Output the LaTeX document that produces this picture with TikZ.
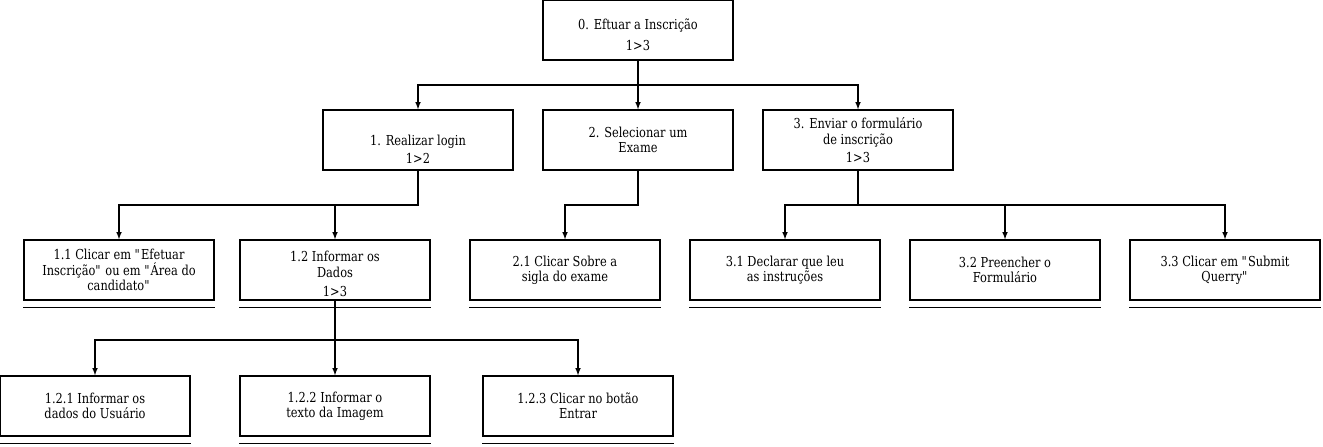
\documentclass[tikz,border=0pt]{standalone}
\usepackage{fontspec}
\setmainfont{DejaVu Serif}[FakeStretch=0.83]
\usetikzlibrary{arrows,positioning}

\newcommand{\qt}{\textquotedbl}
\newcommand{\lowr}[1]{\rule{0pt}{#1}}

\tikzset{
  task/.style={draw, line width=1pt, minimum width=142.5pt, minimum height=45pt,
    align=center, inner sep=2pt, font=\fontsize{10.3}{11.5}\selectfont},
  link/.style={line width=0.9pt, -latex},
}

\begin{document}
\begin{tikzpicture}[x=0.75pt, y=-0.75pt]
  \useasboundingbox (0,0) rectangle (1323,446);

  % root
  \node[task] (top) at (638,30) {\lowr{15pt}0. Eftuar a Inscrição\\[4pt] 1>3};

  % level 1
  \node[task] (real) at (418,140) {\lowr{22pt}1. Realizar login\\[2pt] 1>2};
  \node[task] (sele) at (638,140) {2. Selecionar um\\ Exame};
  \node[task] (envi) at (858,140) {3. Enviar o formulário\\ de inscrição\\[2pt] 1>3};

  % level 2
  \node[task] (clic) at (119,270) {1.1 Clicar em \qt Efetuar\\ Inscrição\qt{} ou em \qt Área do\\ candidato\qt};
  \node[task] (info) at (335,270) {\lowr{14pt}1.2 Informar os\\ Dados\\[3pt] 1>3};
  \node[task] (sigl) at (565,270) {2.1 Clicar Sobre a\\ sigla do exame};
  \node[task] (decl) at (785,270) {3.1 Declarar que leu\\ as instruções};
  \node[task] (pree) at (1005,270) {3.2 Preencher o\\ Formulário};
  \node[task] (subm) at (1225,270) {3.3 Clicar em \qt Submit\\ Querry\qt};

  % level 3
  \node[task] (usua) at (95,406) {1.2.1 Informar os\\ dados do Usuário};
  \node[task] (imag) at (335,406) {1.2.2 Informar o\\ texto da Imagem};
  \node[task] (entr) at (578,406) {1.2.3 Clicar no botão\\ Entrar};

  % bus points
  \coordinate (b0) at (638,85);
  \coordinate (b1) at (418,205);
  \coordinate (b2) at (638,205);
  \coordinate (b3) at (858,205);
  \coordinate (b12) at (335,340);

  \draw[link] (top.south) -- (b0) -| (real.north);
  \draw[link] (b0) -- (sele.north);
  \draw[link] (b0) -| (envi.north);

  \draw[link] (real.south) -- (b1) -| (clic.north);
  \draw[link] (b1) -| (info.north);
  \draw[link] (sele.south) -- (b2) -| (sigl.north);
  \draw[link] (envi.south) -- (b3) -| (decl.north);
  \draw[link] (b3) -| (pree.north);
  \draw[link] (b3) -| (subm.north);

  \draw[link] (info.south) -- (b12) -| (usua.north);
  \draw[link] (b12) -- (imag.north);
  \draw[link] (b12) -| (entr.north);

  % leaf underlines
  \foreach \n in {clic,info,sigl,decl,pree,subm,usua,imag,entr}
    \draw[line width=1pt] ([yshift=-5.25pt]\n.south west) -- ([yshift=-5.25pt]\n.south east);
\end{tikzpicture}
\end{document}
